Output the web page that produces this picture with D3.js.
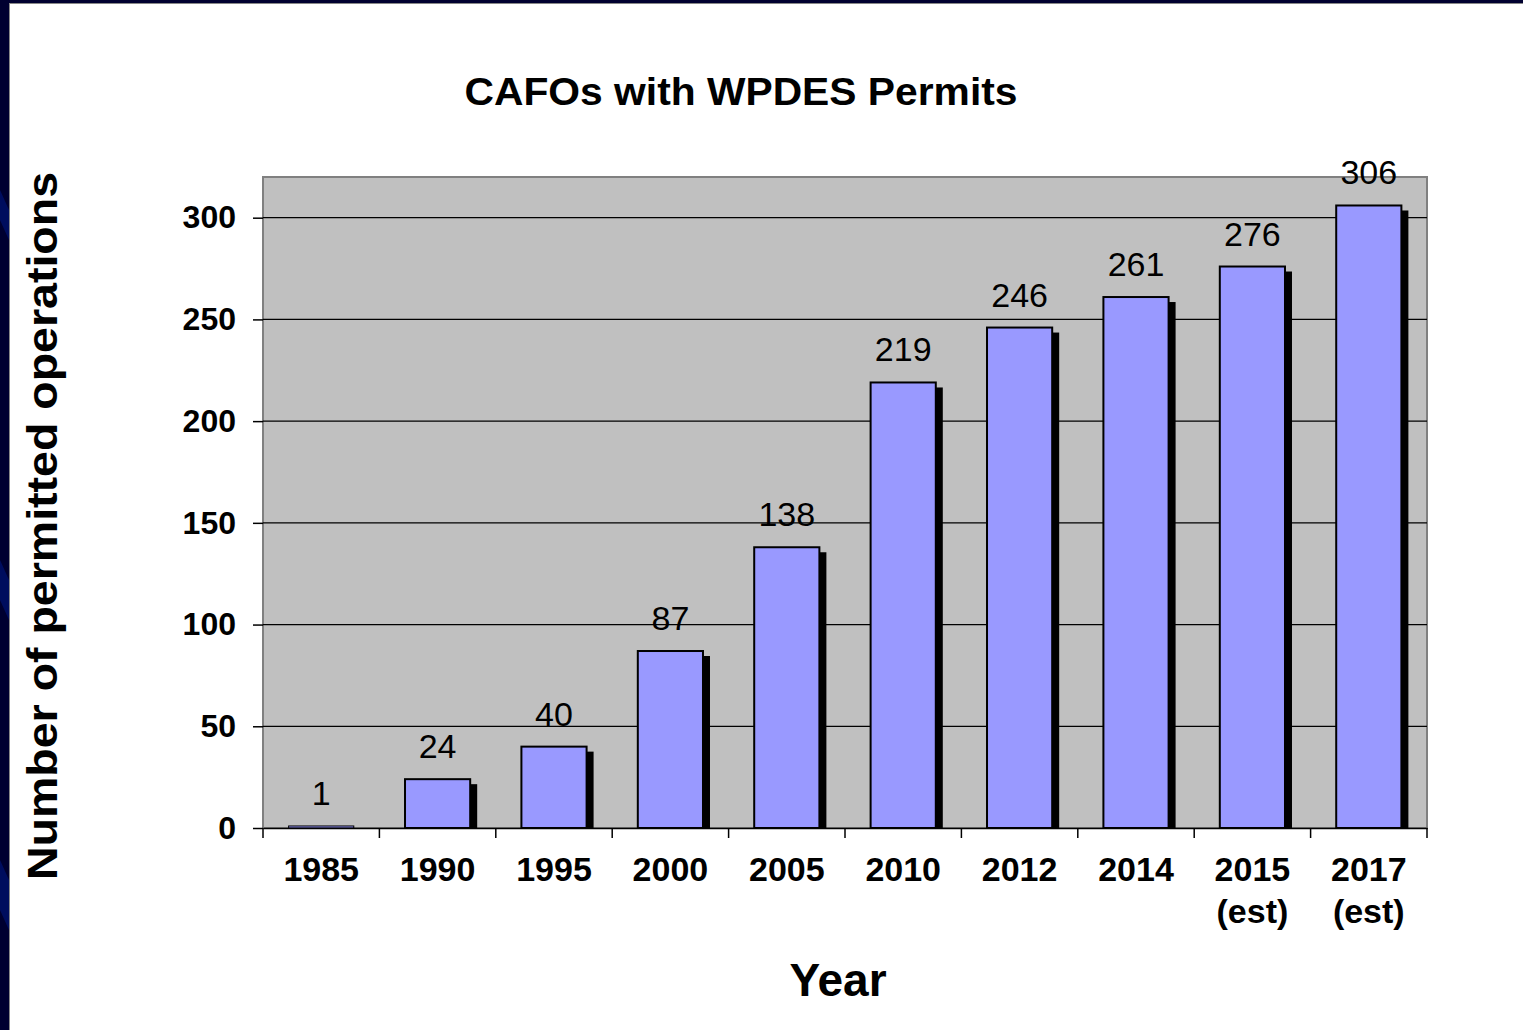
<!DOCTYPE html>
<html lang="en">
<head>
    <meta charset="UTF-8">
    <title>CAFOs with WPDES Permits</title>
    <style>
        body { margin: 0; background: #ffffff; }
        text { font-family: Arial, "Liberation Sans", sans-serif; }
    </style>
</head>
<body>
<div id="chart"></div>
<script src="https://d3js.org/d3.v7.min.js"></script>
<script>
    // data
    var years = ["1985", "1990", "1995", "2000", "2005", "2010", "2012", "2014", "2015", "2017"];
    var subLabels = ["", "", "", "", "", "", "", "", "(est)", "(est)"];
    var permits = [1, 24, 40, 87, 138, 219, 246, 261, 276, 306];
    var yTicks = [0, 50, 100, 150, 200, 250, 300];

    var width = 1523, height = 1030;
    var plot = {left: 263, right: 1427, top: 177, bottom: 828};

    var svg = d3.select("#chart")
        .append("svg")
        .attr("width", width)
        .attr("height", height);

    // slide frame: dark navy strip on the left and top
    svg.append("rect").attr("x", 0).attr("y", 0).attr("width", width).attr("height", 3).attr("fill", "#000030");
    svg.append("rect").attr("x", 0).attr("y", 0).attr("width", 9).attr("height", height).attr("fill", "#000030");
    [[190, 240], [560, 620], [860, 930]].forEach(function (s) {
        svg.append("polygon")
            .attr("points", "0," + s[0] + " 9," + (s[0] + 20) + " 9," + s[1] + " 0," + (s[1] - 20))
            .attr("fill", "#00106a").attr("opacity", 0.8);
    });
    svg.append("line").attr("x1", 9.5).attr("x2", 9.5).attr("y1", 3).attr("y2", height)
        .attr("stroke", "#888").attr("stroke-width", 1);
    svg.append("line").attr("x1", 9).attr("x2", width).attr("y1", 3.5).attr("y2", 3.5)
        .attr("stroke", "#888").attr("stroke-width", 1);

    var x = d3.scaleBand()
        .domain(years)
        .range([plot.left, plot.right])
        .paddingInner(0.44)
        .paddingOuter(0.22);

    var band = d3.scaleBand().domain(years).range([plot.left, plot.right]);

    var y = d3.scaleLinear()
        .domain([0, 320])
        .range([plot.bottom, plot.top]);

    // plot area
    svg.append("rect")
        .attr("x", plot.left).attr("y", plot.top)
        .attr("width", plot.right - plot.left).attr("height", plot.bottom - plot.top)
        .attr("fill", "#c0c0c0")
        .attr("stroke", "#808080").attr("stroke-width", 2);

    // gridlines
    svg.append("g")
        .selectAll("line")
        .data(yTicks.filter(function (d) { return d > 0; }))
        .enter()
        .append("line")
        .attr("x1", plot.left).attr("x2", plot.right)
        .attr("y1", function (d) { return y(d); })
        .attr("y2", function (d) { return y(d); })
        .attr("stroke", "#000").attr("stroke-width", 1.2);

    var data = years.map(function (yr, i) {
        return {year: yr, sub: subLabels[i], value: permits[i]};
    });

    // shadows
    svg.append("g")
        .selectAll("rect")
        .data(data)
        .enter()
        .append("rect")
        .attr("x", function (d) { return x(d.year) + 7; })
        .attr("y", function (d) { return Math.min(y(d.value) + 5, y(0)); })
        .attr("width", x.bandwidth())
        .attr("height", function (d) { return Math.max(y(0) - y(d.value) - 5, 0); })
        .attr("fill", "#000");

    // bars
    svg.append("g")
        .selectAll("rect")
        .data(data)
        .enter()
        .append("rect")
        .attr("x", function (d) { return x(d.year); })
        .attr("y", function (d) { return y(d.value); })
        .attr("width", x.bandwidth())
        .attr("height", function (d) { return y(0) - y(d.value); })
        .attr("fill", "#9999ff")
        .attr("stroke", "#000").attr("stroke-width", function (d) { return d.value < 3 ? 1 : 2; });

    // value labels
    svg.append("g")
        .selectAll("text")
        .data(data)
        .enter()
        .append("text")
        .attr("x", function (d) { return x(d.year) + x.bandwidth() / 2; })
        .attr("y", function (d) { return y(d.value) - 21; })
        .attr("text-anchor", "middle")
        .style("font-size", "34px")
        .style("fill", "#000")
        .text(function (d) { return d.value; });

    // x axis
    var xAxis = svg.append("g")
        .attr("transform", "translate(0," + plot.bottom + ")")
        .call(d3.axisBottom(band).tickSize(0).tickFormat(""));
    xAxis.select(".domain").attr("stroke", "#000").attr("stroke-width", 1.5);
    xAxis.selectAll(".tk")
        .data(d3.range(years.length + 1))
        .enter()
        .append("line")
        .attr("x1", function (i) { return plot.left + i * band.step(); })
        .attr("x2", function (i) { return plot.left + i * band.step(); })
        .attr("y1", 0).attr("y2", 10)
        .attr("stroke", "#000").attr("stroke-width", 1.5);

    var xl = svg.append("g").selectAll("text")
        .data(data)
        .enter()
        .append("text")
        .attr("x", function (d) { return band(d.year) + band.bandwidth() / 2; })
        .attr("y", 881)
        .attr("text-anchor", "middle")
        .style("font-size", "34px")
        .style("font-weight", "bold");
    xl.append("tspan").text(function (d) { return d.year; });
    xl.append("tspan")
        .attr("x", function (d) { return band(d.year) + band.bandwidth() / 2; })
        .attr("dy", 42)
        .text(function (d) { return d.sub; });

    // y axis
    var yAxis = svg.append("g")
        .attr("transform", "translate(" + plot.left + ",0)")
        .call(d3.axisLeft(y).tickValues(yTicks).tickSize(10).tickPadding(17));
    yAxis.select(".domain").remove();
    yAxis.selectAll(".tick line").attr("stroke", "#000").attr("stroke-width", 1.5);
    yAxis.selectAll(".tick text")
        .style("font-family", "Arial, 'Liberation Sans', sans-serif")
        .style("font-size", "32px")
        .style("font-weight", "bold")
        .style("fill", "#000");

    // titles
    svg.append("text")
        .attr("x", 741).attr("y", 105)
        .attr("text-anchor", "middle")
        .attr("textLength", 553)
        .attr("lengthAdjust", "spacingAndGlyphs")
        .style("font-size", "38px")
        .style("font-weight", "bold")
        .text("CAFOs with WPDES Permits");

    svg.append("text")
        .attr("x", 838).attr("y", 996)
        .attr("text-anchor", "middle")
        .style("font-size", "46px")
        .style("font-weight", "bold")
        .text("Year");

    svg.append("text")
        .attr("transform", "translate(57,526) rotate(-90)")
        .attr("text-anchor", "middle")
        .attr("textLength", 708)
        .attr("lengthAdjust", "spacingAndGlyphs")
        .style("font-size", "43px")
        .style("font-weight", "bold")
        .text("Number of permitted operations");
</script>
</body>
</html>
